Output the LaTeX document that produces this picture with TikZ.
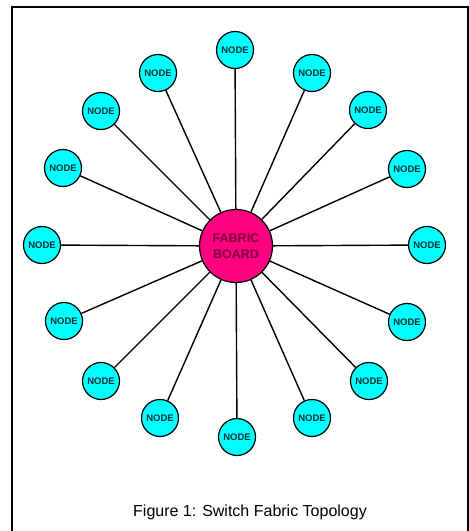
\documentclass[tikz,border=0pt]{standalone}
\usepackage{fontspec}
\setmainfont{Liberation Sans}
\definecolor{nodecyan}{RGB}{0,255,255}
\definecolor{fabpink}{RGB}{255,0,128}
\definecolor{fabtext}{RGB}{120,0,60}
\definecolor{nodetext}{RGB}{0,50,50}
\begin{document}
\begin{tikzpicture}[x=1pt,y=-1pt,
  netnode/.style={circle,draw=black,line width=1.2pt,fill=nodecyan,minimum size=37pt,inner sep=0pt,
    font=\fontsize{9.5}{9.5}\selectfont\bfseries,text=nodetext},
  fabnode/.style={circle,draw=black,line width=1.2pt,fill=fabpink,minimum size=73pt,inner sep=0pt,
    font=\fontsize{12.5}{16}\selectfont\bfseries,text=fabtext,align=center},
  link/.style={draw=black,line width=1.4pt},
  frame/.style={draw=black,line width=2pt}]
\useasboundingbox (0,0) rectangle (469,531);
\draw[frame] (12,540) -- (12,7) -- (467.5,7) -- (467.5,540);
\node[fabnode] (fab) at (236,246) {FABRIC\\BOARD};
\node[netnode] (n1) at (235,50) {NODE};
\node[netnode] (n2) at (312,73) {NODE};
\node[netnode] (n3) at (368,110) {NODE};
\node[netnode] (n4) at (407,169) {NODE};
\node[netnode] (n5) at (427,245) {NODE};
\node[netnode] (n6) at (407,322) {NODE};
\node[netnode] (n7) at (369,381) {NODE};
\node[netnode] (n8) at (312,418) {NODE};
\node[netnode] (n9) at (237,437) {NODE};
\node[netnode] (n10) at (160,418) {NODE};
\node[netnode] (n11) at (101,381) {NODE};
\node[netnode] (n12) at (64,321) {NODE};
\node[netnode] (n13) at (42,245) {NODE};
\node[netnode] (n14) at (63,168) {NODE};
\node[netnode] (n15) at (101,111) {NODE};
\node[netnode] (n16) at (158,73) {NODE};
\foreach \i in {1,...,16}{\draw[link] (fab) -- (n\i);}
\node[font=\fontsize{16}{16}\selectfont,anchor=base] (cap) at (250,516) {Figure 1: Switch Fabric Topology};
\end{tikzpicture}
\end{document}
